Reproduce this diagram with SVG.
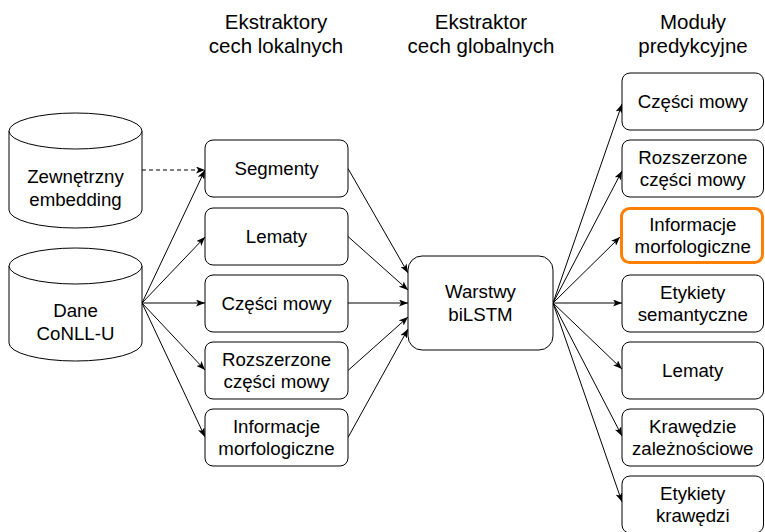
<svg xmlns="http://www.w3.org/2000/svg" width="765" height="532" viewBox="0 0 765 532">
  <style>
    .box { fill: #ffffff; stroke: #000000; stroke-width: 1; }
    .hl { fill: #ffffff; stroke: #ff8000; stroke-width: 3; }
    .lbl { font-family: "Liberation Sans", Arial, Helvetica, sans-serif; font-size: 18.7px; fill: #000000; text-anchor: middle; }
    .hdr { font-family: "Liberation Sans", Arial, Helvetica, sans-serif; font-size: 20.5px; fill: #000000; text-anchor: middle; }
    .edge { fill: none; stroke: #000000; stroke-width: 1; marker-end: url(#arrow); }
    .dash { stroke-dasharray: 4 3; }
  </style>
  <defs>
    <marker id="arrow" viewBox="0 0 9 7" refX="9" refY="3.5" markerWidth="9" markerHeight="7" markerUnits="userSpaceOnUse" orient="auto">
      <path d="M0,0 L9,3.5 L0,7 L2.2,3.5 Z" fill="#000000"/>
    </marker>
  </defs>
  <rect width="765" height="532" fill="#ffffff"/>

  <!-- column headings -->
  <g id="headers">
    <text class="hdr" x="276" y="28.5">Ekstraktory</text>
    <text class="hdr" x="276" y="52.5">cech lokalnych</text>
    <text class="hdr" x="481" y="28.5">Ekstraktor</text>
    <text class="hdr" x="481" y="52.5">cech globalnych</text>
    <text class="hdr" x="693" y="28.5">Moduły</text>
    <text class="hdr" x="693" y="52.5">predykcyjne</text>
  </g>

  <!-- connectors -->
  <g id="connectors">
    <line class="edge dash" x1="142" y1="170" x2="205" y2="170"/>
    <line class="edge" x1="142" y1="303" x2="205" y2="170"/>
    <line class="edge" x1="142" y1="303" x2="205" y2="237"/>
    <line class="edge" x1="142" y1="303" x2="205" y2="303"/>
    <line class="edge" x1="142" y1="303" x2="205" y2="370"/>
    <line class="edge" x1="142" y1="303" x2="205" y2="437"/>

    <line class="edge" x1="348" y1="168.5" x2="408" y2="273"/>
    <line class="edge" x1="348" y1="236.5" x2="408" y2="290"/>
    <line class="edge" x1="348" y1="303" x2="408" y2="303"/>
    <line class="edge" x1="348" y1="370.5" x2="408" y2="317"/>
    <line class="edge" x1="348" y1="437.5" x2="408" y2="329"/>

    <line class="edge" x1="553" y1="303" x2="622" y2="104"/>
    <line class="edge" x1="553" y1="303" x2="622" y2="171"/>
    <line class="edge" x1="553" y1="303" x2="620" y2="237"/>
    <line class="edge" x1="553" y1="303" x2="622" y2="303"/>
    <line class="edge" x1="553" y1="303" x2="622" y2="369"/>
    <line class="edge" x1="553" y1="303" x2="622" y2="436"/>
    <line class="edge" x1="553" y1="303" x2="622" y2="502"/>
  </g>

  <!-- data sources -->
  <g id="src-embedding">
    <path class="box" d="M9,131 L9,210 A66.5,18 0 0 0 142,210 L142,131 A66.5,18 0 0 0 9,131 Z"/>
    <path class="box" d="M9,131 A66.5,18 0 0 0 142,131"/>
    <text class="lbl" x="75.5" y="183">Zewnętrzny</text>
    <text class="lbl" x="75.5" y="206">embedding</text>
  </g>
  <g id="src-conllu">
    <path class="box" d="M9,266 L9,343 A66.5,18 0 0 0 142,343 L142,266 A66.5,18 0 0 0 9,266 Z"/>
    <path class="box" d="M9,266 A66.5,18 0 0 0 142,266"/>
    <text class="lbl" x="75.5" y="317">Dane</text>
    <text class="lbl" x="75.5" y="340">CoNLL-U</text>
  </g>

  <!-- local feature extractors -->
  <g id="loc-segments">
    <rect class="box" x="205" y="140" width="143" height="57" rx="8"/>
    <text class="lbl" x="276.5" y="175">Segmenty</text>
  </g>
  <g id="loc-lemmas">
    <rect class="box" x="205" y="208" width="143" height="57" rx="8"/>
    <text class="lbl" x="276.5" y="243">Lematy</text>
  </g>
  <g id="loc-upos">
    <rect class="box" x="205" y="275" width="143" height="57" rx="8"/>
    <text class="lbl" x="276.5" y="310">Części mowy</text>
  </g>
  <g id="loc-xpos">
    <rect class="box" x="205" y="342" width="143" height="57" rx="8"/>
    <text class="lbl" x="276.5" y="366">Rozszerzone</text>
    <text class="lbl" x="276.5" y="388">części mowy</text>
  </g>
  <g id="loc-feats">
    <rect class="box" x="205" y="409" width="143" height="57" rx="8"/>
    <text class="lbl" x="276.5" y="433">Informacje</text>
    <text class="lbl" x="276.5" y="455">morfologiczne</text>
  </g>

  <!-- global feature extractor -->
  <g id="bilstm">
    <rect class="box" x="408" y="256" width="145" height="94" rx="14"/>
    <text class="lbl" x="480.5" y="298">Warstwy</text>
    <text class="lbl" x="480.5" y="321">biLSTM</text>
  </g>

  <!-- prediction modules -->
  <g id="out-upos">
    <rect class="box" x="622" y="73" width="141.5" height="57" rx="8"/>
    <text class="lbl" x="692.75" y="108">Części mowy</text>
  </g>
  <g id="out-xpos">
    <rect class="box" x="622" y="140" width="141.5" height="57" rx="8"/>
    <text class="lbl" x="692.75" y="164">Rozszerzone</text>
    <text class="lbl" x="692.75" y="186">części mowy</text>
  </g>
  <g id="out-feats">
    <rect class="hl" x="621.5" y="208.5" width="141" height="54" rx="8"/>
    <text class="lbl" x="692.75" y="231">Informacje</text>
    <text class="lbl" x="692.75" y="253">morfologiczne</text>
  </g>
  <g id="out-semrel">
    <rect class="box" x="622" y="275" width="141.5" height="57" rx="8"/>
    <text class="lbl" x="692.75" y="299">Etykiety</text>
    <text class="lbl" x="692.75" y="321">semantyczne</text>
  </g>
  <g id="out-lemmas">
    <rect class="box" x="622" y="342" width="141.5" height="57" rx="8"/>
    <text class="lbl" x="692.75" y="377">Lematy</text>
  </g>
  <g id="out-heads">
    <rect class="box" x="622" y="409" width="141.5" height="57" rx="8"/>
    <text class="lbl" x="692.75" y="433">Krawędzie</text>
    <text class="lbl" x="692.75" y="455">zależnościowe</text>
  </g>
  <g id="out-deprel">
    <rect class="box" x="622" y="476" width="141.5" height="57" rx="8"/>
    <text class="lbl" x="692.75" y="500">Etykiety</text>
    <text class="lbl" x="692.75" y="522">krawędzi</text>
  </g>
</svg>
